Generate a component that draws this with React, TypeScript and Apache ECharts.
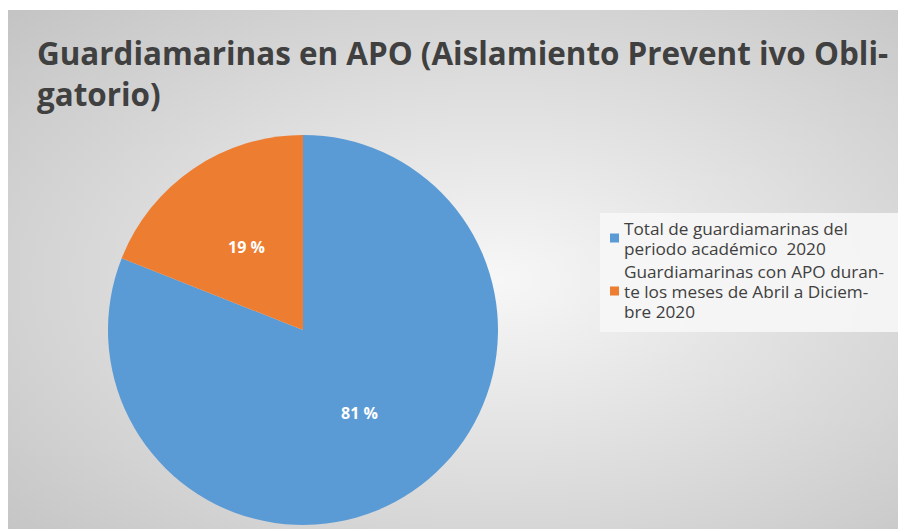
import React, { useEffect, useRef } from "react";
import * as echarts from "echarts";

const titleLines = [
  "Guardiamarinas en APO (Aislamiento Prevent ivo Obli-",
  "gatorio)",
];
const categories = [
  "Total de guardiamarinas del periodo académico  2020",
  "Guardiamarinas con APO durante los meses de Abril a Diciembre 2020",
];
const legendLabels = [
  "Total de guardiamarinas del\nperiodo académico  2020",
  "Guardiamarinas con APO duran-\nte los meses de Abril a Diciem-\nbre 2020",
];
const values = [81, 19];
const colors = ["#5B9BD5", "#ED7D31"];

export default function App() {
  const ref = useRef<HTMLDivElement>(null);
  useEffect(() => {
    if (!ref.current) return;
    const chart = echarts.init(ref.current, null, { renderer: "svg" });
    chart.setOption({
      animation: false,
      backgroundColor: {
        type: "radial",
        x: 0.55,
        y: 0.52,
        r: 0.9,
        colorStops: [
          { offset: 0, color: "#f7f7f7" },
          { offset: 1, color: "#bababa" },
        ],
      },
      graphic: titleLines.map((t, i) => ({
        type: "text",
        x: 29,
        y: 27 + i * 41,
        style: {
          text: t,
          fill: "#404040",
          font: "bold 31.4px 'Open Sans'",
        },
      })),
      legend: {
        orient: "vertical",
        left: 592,
        top: 203,
        backgroundColor: "rgba(246,246,246,0.92)",
        padding: [5, 40, 11, 10],
        itemWidth: 9,
        itemHeight: 9,
        itemGap: 3,
        icon: "rect",
        formatter: (name: string) => legendLabels[categories.indexOf(name)],
        textStyle: {
          fontFamily: "'Open Sans'",
          fontSize: 17.2,
          color: "#404040",
          lineHeight: 20,
        },
        data: categories,
      },
      series: [
        {
          type: "pie",
          center: [295, 320],
          radius: [0, 195],
          startAngle: 90,
          clockwise: true,
          color: colors,
          label: {
            show: true,
            position: "inside",
            formatter: (p: any) => `${Math.round(p.percent)} %`,
            color: "#ffffff",
            fontFamily: "'Open Sans'",
            fontWeight: "bold",
            fontSize: 16,
          },
          labelLine: { show: false },
          emphasis: { disabled: true },
          data: categories.map((c, i) => ({ name: c, value: values[i] })),
        },
      ],
    });
    return () => chart.dispose();
  }, []);
  return (
    <div
      ref={ref}
      style={{ position: "absolute", left: 8, top: 10, width: 890, height: 519 }}
    />
  );
}
